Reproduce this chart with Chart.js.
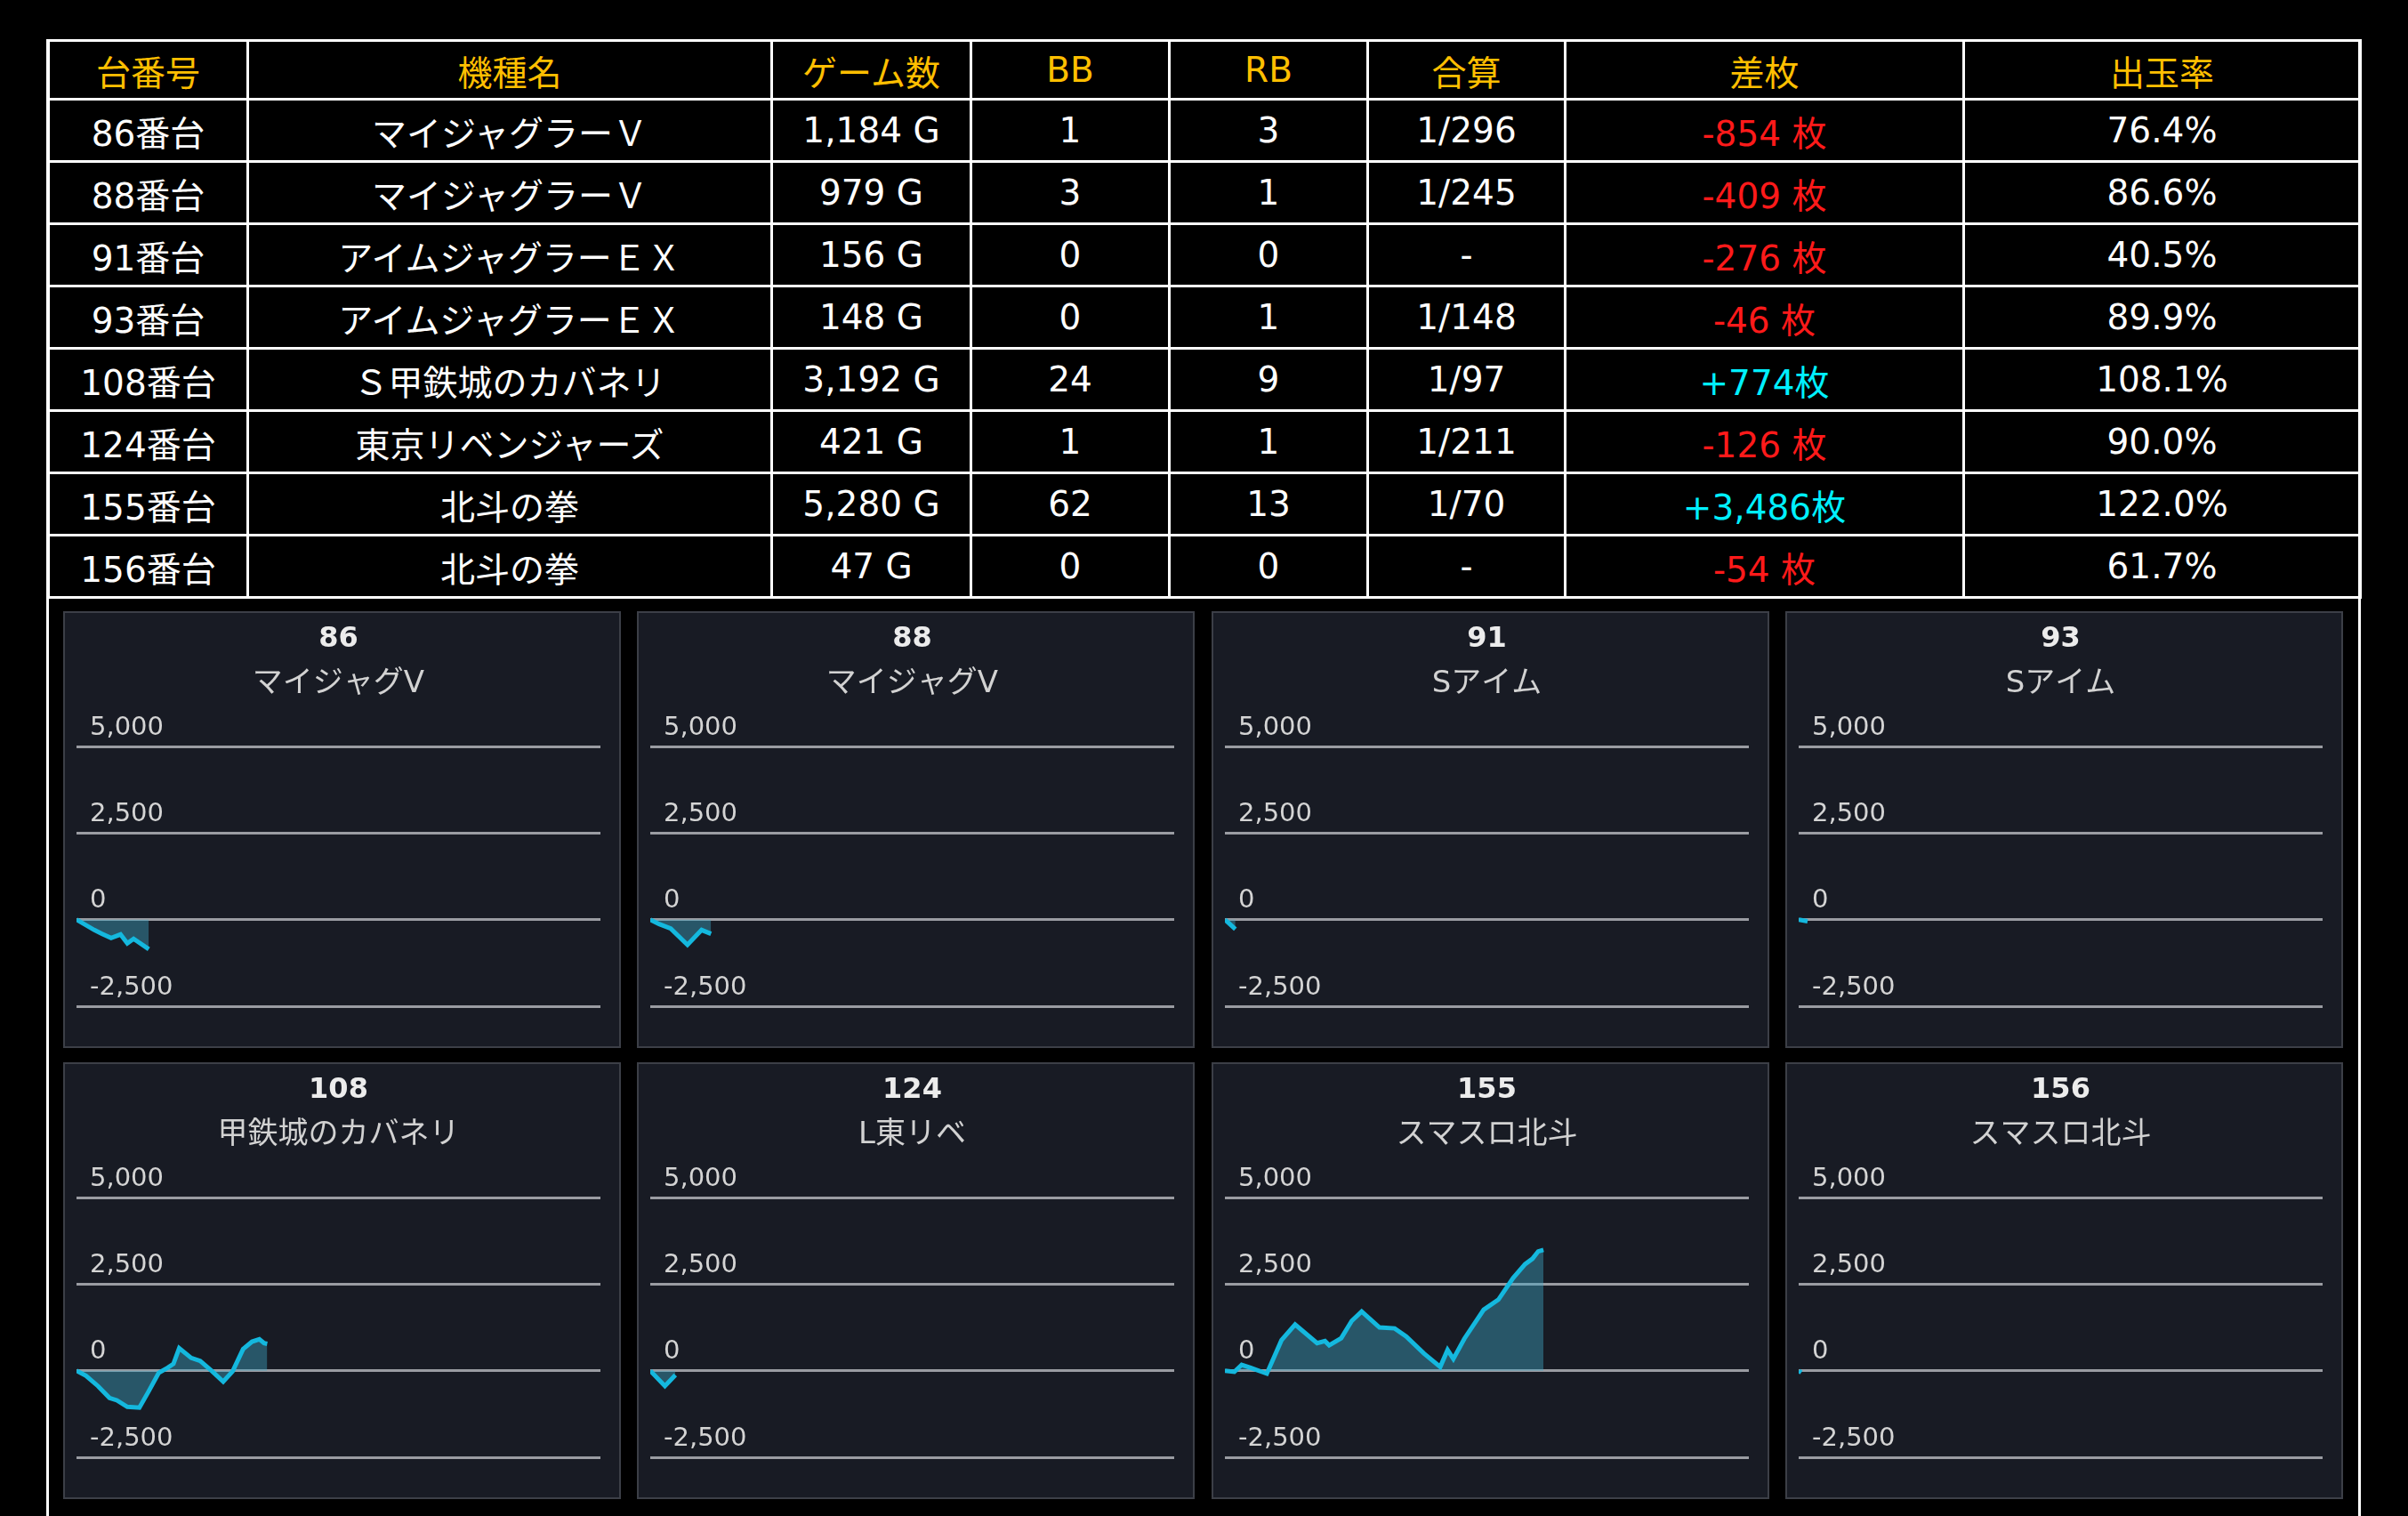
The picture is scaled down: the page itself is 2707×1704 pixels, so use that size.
<!DOCTYPE html>
<html lang="ja">
<head>
<meta charset="UTF-8">
<title>台データ</title>
<script src="https://cdn.jsdelivr.net/npm/chart.js@4.4.1/dist/chart.umd.min.js"></script>
<style>
  html, body { margin: 0; padding: 0; background: #000; }
  body { width: 2707px; height: 1704px; overflow: hidden; position: relative;
         font-family: "DejaVu Sans", "Noto Sans CJK JP", sans-serif; }
  #frame { position: absolute; left: 52px; top: 44px; width: 2602px; height: 1700px;
           border-left: 3px solid #fff; border-right: 3px solid #fff; box-sizing: border-box; }
  #dataTable { position: absolute; left: 53px; top: 44px; border-collapse: collapse; table-layout: fixed; }
  #dataTable th, #dataTable td { border: 3px solid #fff; color: #fff; font-size: 39px; font-weight: normal;
           text-align: center; vertical-align: middle; padding: 0; height: 66px; box-sizing: border-box; white-space: nowrap; }
  #dataTable th { color: #ffbf00; height: 66px; }
  #dataTable td { height: 70px; }
  .minus { color: #ff1a1a !important; }
  .plus { color: #00f0ff !important; }
  .panel { position: absolute; width: 627px; height: 491px; background: #181b24;
           border: 2px solid #3c3f47; box-sizing: border-box; }
  .panel canvas { display: block; }
</style>
</head>
<body>
<div id="frame"></div>
<table id="dataTable">
  <colgroup>
    <col style="width:224px"><col style="width:589px"><col style="width:224px"><col style="width:223px">
    <col style="width:223px"><col style="width:222px"><col style="width:448px"><col style="width:446px">
  </colgroup>
  <thead><tr id="headRow"></tr></thead>
  <tbody id="bodyRows"></tbody>
</table>
<div id="panels"></div>

<script>
  // table data
  const headers = ['台番号', '機種名', 'ゲーム数', 'BB', 'RB', '合算', '差枚', '出玉率'];
  const machineNos = [86, 88, 91, 93, 108, 124, 155, 156];
  const machineNames = ['マイジャグラーＶ', 'マイジャグラーＶ', 'アイムジャグラーＥＸ', 'アイムジャグラーＥＸ',
                        'Ｓ甲鉄城のカバネリ', '東京リベンジャーズ', '北斗の拳', '北斗の拳'];
  const games = [1184, 979, 156, 148, 3192, 421, 5280, 47];
  const bbCounts = [1, 3, 0, 0, 24, 1, 62, 0];
  const rbCounts = [3, 1, 0, 1, 9, 1, 13, 0];
  const combined = ['1/296', '1/245', '-', '1/148', '1/97', '1/211', '1/70', '-'];
  const diffs = [-854, -409, -276, -46, 774, -126, 3486, -54];
  const payouts = ['76.4%', '86.6%', '40.5%', '89.9%', '108.1%', '90.0%', '122.0%', '61.7%'];

  // small charts
  const chartNames = ['マイジャグV', 'マイジャグV', 'Sアイム', 'Sアイム', '甲鉄城のカバネリ', 'L東リベ', 'スマスロ北斗', 'スマスロ北斗'];
  const yTicks = [-2500, 0, 2500, 5000];

  const x86 = [0, 3.4, 4.9, 6.6, 8.4, 9.7, 10.9, 13.8];
  const y86 = [0, -299, -410, -530, -427, -684, -555, -854];
  const x88 = [0, 1.7, 3.9, 7.1, 9.8, 11.6];
  const y88 = [0, -128, -256, -726, -299, -409];
  const x91 = [0, 2.0];
  const y91 = [0, -276];
  const x93 = [0, 1.7];
  const y93 = [0, -46];
  const x108 = [0, 1.8, 4.1, 6.3, 7.7, 9.7, 12, 13.7, 15.7, 17.4, 18.5, 19.6, 21.9, 23.6, 25.9, 28, 29.8, 31.8, 33.5, 34.9, 35.8, 36.4];
  const y108 = [0, -145, -444, -786, -855, -1043, -1068, -615, -60, 85, 197, 650, 368, 282, -17, -316, -17, 624, 838, 906, 795, 774];
  const x124 = [0, 2.8, 4.8];
  const y124 = [0, -444, -126];
  const x155 = [0, 1.8, 3.2, 4.9, 8, 10.8, 13.4, 17.6, 19.1, 19.9, 22.2, 24.2, 26.1, 29.5, 32.4, 34.6, 38, 41.1, 42.5, 43.6, 45.7, 49.4, 52.2, 55, 57.3, 58.7, 59.8, 60.8];
  const y155 = [0, -34, 171, 85, -85, 880, 1333, 795, 855, 735, 940, 1436, 1709, 1248, 1222, 991, 496, 111, 598, 342, 923, 1761, 2051, 2675, 3077, 3231, 3444, 3486];
  const x156 = [0, 0.5];
  const y156 = [0, -54];

  const seriesX = [x86, x88, x91, x93, x108, x124, x155, x156];
  const seriesY = [y86, y88, y91, y93, y108, y124, y155, y156];

  // build table
  const headRow = document.getElementById('headRow');
  headers.forEach(h => {
    const th = document.createElement('th');
    th.textContent = h;
    headRow.appendChild(th);
  });

  function formatDiff(n) {
    if (n < 0) return '-' + Math.abs(n).toLocaleString('en-US') + ' 枚';
    return '+' + n.toLocaleString('en-US') + '枚';
  }

  const tbody = document.getElementById('bodyRows');
  machineNos.forEach((no, i) => {
    const tr = document.createElement('tr');
    const cells = [
      no + '番台',
      machineNames[i],
      games[i].toLocaleString('en-US') + ' G',
      bbCounts[i],
      rbCounts[i],
      combined[i],
      formatDiff(diffs[i]),
      payouts[i]
    ];
    cells.forEach((c, j) => {
      const td = document.createElement('td');
      td.textContent = c;
      if (j === 6) td.className = diffs[i] < 0 ? 'minus' : 'plus';
      tr.appendChild(td);
    });
    tbody.appendChild(tr);
  });

  // build panels
  const panelLeft = [71, 716, 1362, 2007];
  const panelTop = [687, 1194];
  const panels = document.getElementById('panels');

  machineNos.forEach((no, i) => {
    const div = document.createElement('div');
    div.className = 'panel';
    div.style.left = panelLeft[i % 4] + 'px';
    div.style.top = panelTop[Math.floor(i / 4)] + 'px';
    const canvas = document.createElement('canvas');
    canvas.width = 623;
    canvas.height = 487;
    div.appendChild(canvas);
    panels.appendChild(div);

    const points = seriesX[i].map((x, k) => ({ x: x, y: seriesY[i][k] }));

    new Chart(canvas.getContext('2d'), {
      type: 'line',
      data: {
        datasets: [{
          data: points,
          borderColor: '#14b8de',
          borderWidth: 5,
          backgroundColor: 'rgba(64, 170, 200, 0.42)',
          fill: 'origin',
          pointRadius: 0,
          tension: 0
        }]
      },
      options: {
        responsive: false,
        animation: false,
        devicePixelRatio: 1,
        layout: { padding: { left: 13, right: 21, top: 0, bottom: 45 } },
        plugins: {
          legend: { display: false },
          tooltip: { enabled: false },
          title: {
            display: true,
            text: String(no),
            color: '#ececec',
            font: { family: 'DejaVu Sans', size: 32, weight: 'bold', lineHeight: 1 },
            padding: { top: 14, bottom: 0 }
          },
          subtitle: {
            display: true,
            text: chartNames[i],
            color: '#d2d2d2',
            font: { family: '"DejaVu Sans", "Noto Sans CJK JP"', size: 34, lineHeight: 1 },
            padding: { top: 17, bottom: 53 }
          }
        },
        scales: {
          x: { type: 'linear', min: 0, max: 100, display: false },
          y: {
            min: yTicks[0],
            max: yTicks[yTicks.length - 1],
            afterBuildTicks: axis => { axis.ticks = yTicks.map(v => ({ value: v })); },
            afterFit: axis => { axis.width = 0; },
            border: { display: false },
            grid: { color: '#9a9ca2', lineWidth: 3, drawTicks: false },
            ticks: {
              mirror: true,
              padding: 15,
              labelOffset: -21,
              color: '#d4d4d4',
              font: { family: 'DejaVu Sans', size: 29 },
              callback: v => v.toLocaleString('en-US')
            }
          }
        }
      }
    });
  });
</script>
</body>
</html>
